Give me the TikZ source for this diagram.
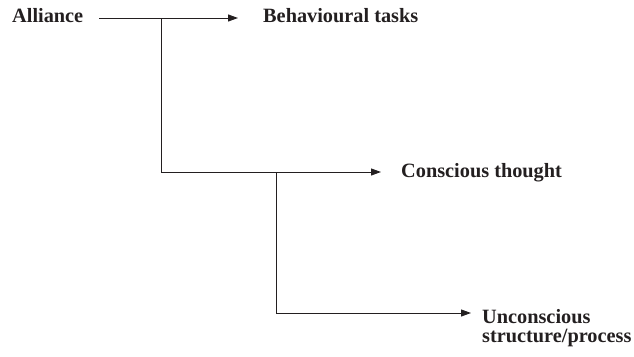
\documentclass[tikz,border=0pt]{standalone}
\usepackage{fontspec}
\setmainfont{Liberation Serif}
\usetikzlibrary{arrows.meta}
\definecolor{ink}{HTML}{231F20}
\begin{document}
\begin{tikzpicture}[x=1pt,y=-1pt,
  lbl/.style={inner sep=0pt, text=ink, font=\fontsize{20.3}{20}\selectfont\bfseries,
              text height=13pt, text depth=3pt},
  multi/.style={inner sep=0pt, text=ink, align=left,
              font=\fontsize{20.3}{19.5}\selectfont\bfseries},
  arr/.style={draw=ink, line width=1pt, -{Triangle[length=10pt,width=7pt]}},
  link/.style={draw=ink, line width=1pt}]
  \useasboundingbox (0,0) rectangle (634,356);

  % labels
  \node[lbl, anchor=base west] (alliance)  at (12,23)   {Alliance};
  \node[lbl, anchor=base west] (behav)     at (263,23)  {Behavioural tasks};
  \node[lbl, anchor=base west] (conscious) at (401,177) {Conscious thought};
  \node[multi, anchor=north west] (uncon)  at (482,309) {Unconscious\\structure/process};

  % branch points and the free end of the lowest arrow
  \coordinate (b1) at (161,18);
  \coordinate (b2) at (276,172);
  \coordinate (t3) at (471,313);

  % connectors
  \draw[arr] ([xshift=16pt]alliance.east) -- ([xshift=-25pt]behav.west);
  \draw[arr] (b1) |- ([xshift=-20pt]conscious.west);
  \draw[arr] (b2) |- (t3);
\end{tikzpicture}
\end{document}
